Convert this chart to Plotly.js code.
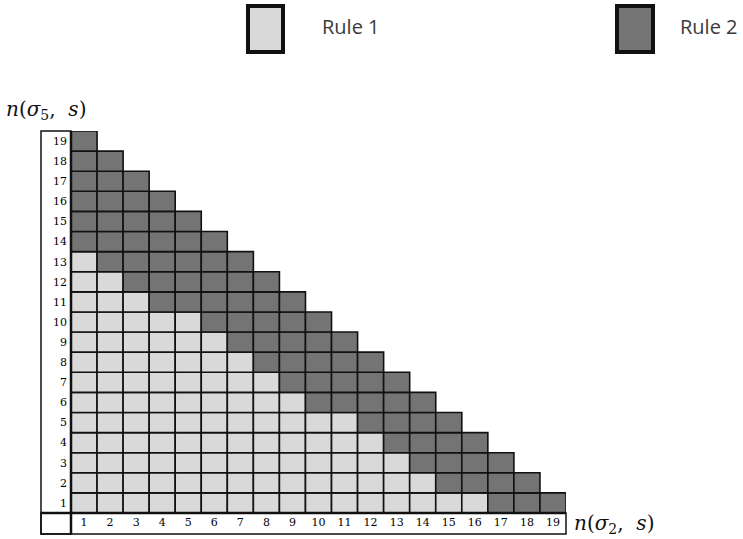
<!DOCTYPE html>
<html>
<head>
<meta charset="utf-8">
<script src="https://cdn.plot.ly/plotly-3.0.1.min.js"></script>
<style>body{margin:0;padding:0;background:#fff;}#chart{width:743px;height:539px;}</style>
</head>
<body>
<div id="chart"></div>
<script>
// Rows of n(sigma5, s) from 1 to 19; row y holds cells x = 1 .. 20 - y
const rowValues = [1,2,3,4,5,6,7,8,9,10,11,12,13,14,15,16,17,18,19];
const rowLength = [19,18,17,16,15,14,13,12,11,10,9,8,7,6,5,4,3,2,1];
// number of Rule 1 (light) cells in each row, counted from x = 1
const rule1Count = [16,14,13,12,11,9,8,7,6,5,3,2,1,0,0,0,0,0,0];
const xTickLabels = ["1","2","3","4","5","6","7","8","9","10","11","12","13","14","15","16","17","18","19"];
const yTickLabels = ["1","2","3","4","5","6","7","8","9","10","11","12","13","14","15","16","17","18","19"];
const seriesNames = ["Rule 1", "Rule 2"];

const r1x = [], r1b = [], r2x = [], r2b = [];
rowValues.forEach((y, i) => {
  for (let x = 1; x <= rowLength[i]; x++) {
    if (x <= rule1Count[i]) { r1x.push(x); r1b.push(y - 0.5); }
    else { r2x.push(x); r2b.push(y - 0.5); }
  }
});

const LIGHT = '#d9d9d9', DARK = '#747474';
const cellLine = {color: '#111', width: 1.6};
const traces = [
  {type: 'bar', name: seriesNames[0], x: r1x, y: r1x.map(() => 1), base: r1b, width: 1,
   marker: {color: LIGHT, line: cellLine}, showlegend: false, hoverinfo: 'x+y'},
  {type: 'bar', name: seriesNames[1], x: r2x, y: r2x.map(() => 1), base: r2b, width: 1,
   marker: {color: DARK, line: cellLine}, showlegend: false, hoverinfo: 'x+y'}
];

// pixel helpers (plot area: x 71..566, y 131..513)
const L = 71, R = 566, T = 131, B = 513;
const px = p => (p - L) / (R - L);
const py = p => (B - p) / (B - T);

const shapes = [
  // label boxes
  {type: 'rect', xref: 'paper', yref: 'paper', x0: px(41), x1: px(71), y0: py(534), y1: py(131), line: {color: '#111', width: 1.5}, fillcolor: 'rgba(0,0,0,0)'},
  {type: 'rect', xref: 'paper', yref: 'paper', x0: px(41), x1: px(566), y0: py(534), y1: py(513), line: {color: '#111', width: 1.5}, fillcolor: 'rgba(0,0,0,0)'},
  {type: 'line', xref: 'paper', yref: 'paper', x0: px(71), x1: px(71), y0: py(534), y1: py(131), line: {color: '#111', width: 2.5}},
  {type: 'line', xref: 'paper', yref: 'paper', x0: px(41), x1: px(566), y0: py(513), y1: py(513), line: {color: '#111', width: 2.5}},
  // legend boxes
  {type: 'rect', xref: 'paper', yref: 'paper', x0: px(248), x1: px(283), y0: py(52), y1: py(6), line: {color: '#111', width: 4}, fillcolor: LIGHT},
  {type: 'rect', xref: 'paper', yref: 'paper', x0: px(617), x1: px(653), y0: py(52), y1: py(6), line: {color: '#111', width: 4}, fillcolor: DARK}
];

const mathFont = {family: 'DejaVu Serif, Liberation Serif, serif', size: 20, color: '#111'};
const legendFont = {family: 'Open Sans, Noto Sans, sans-serif', size: 20, color: '#3a3a3a'};
const annotations = [
  {xref: 'paper', yref: 'paper', x: px(320), y: py(27), xanchor: 'left', yanchor: 'middle', showarrow: false,
   text: seriesNames[0], font: legendFont},
  {xref: 'paper', yref: 'paper', x: px(678), y: py(27), xanchor: 'left', yanchor: 'middle', showarrow: false,
   text: seriesNames[1], font: legendFont},
  {xref: 'paper', yref: 'paper', x: px(4), y: py(110), xanchor: 'left', yanchor: 'middle', showarrow: false,
   text: '<i>n</i>(<i>σ</i><sub>5</sub>,  <i>s</i>)', font: mathFont},
  {xref: 'paper', yref: 'paper', x: px(572), y: py(524), xanchor: 'left', yanchor: 'middle', showarrow: false,
   text: '<i>n</i>(<i>σ</i><sub>2</sub>,  <i>s</i>)', font: mathFont}
];

const tickFont = {family: 'DejaVu Serif, Liberation Serif, serif', size: 11, color: '#000'};
const layout = {
  width: 743, height: 539,
  margin: {l: L, r: 743 - R, t: T, b: 539 - B, pad: 0},
  font: {color: '#000'},
  paper_bgcolor: '#fff', plot_bgcolor: '#fff',
  barmode: 'overlay', bargap: 0,
  showlegend: false,
  xaxis: {range: [0.5, 19.5], tickvals: rowValues, ticktext: xTickLabels, showgrid: false, zeroline: false,
          showline: false, ticks: '', tickfont: tickFont, fixedrange: true, ticklabelstandoff: 1},
  yaxis: {range: [0.5, 19.5], tickvals: rowValues, ticktext: yTickLabels, showgrid: false, zeroline: false,
          showline: false, ticks: '', tickfont: tickFont, fixedrange: true, ticklabelstandoff: 3},
  shapes: shapes,
  annotations: annotations
};

Plotly.newPlot('chart', traces, layout, {staticPlot: true, displayModeBar: false});
</script>
</body>
</html>
